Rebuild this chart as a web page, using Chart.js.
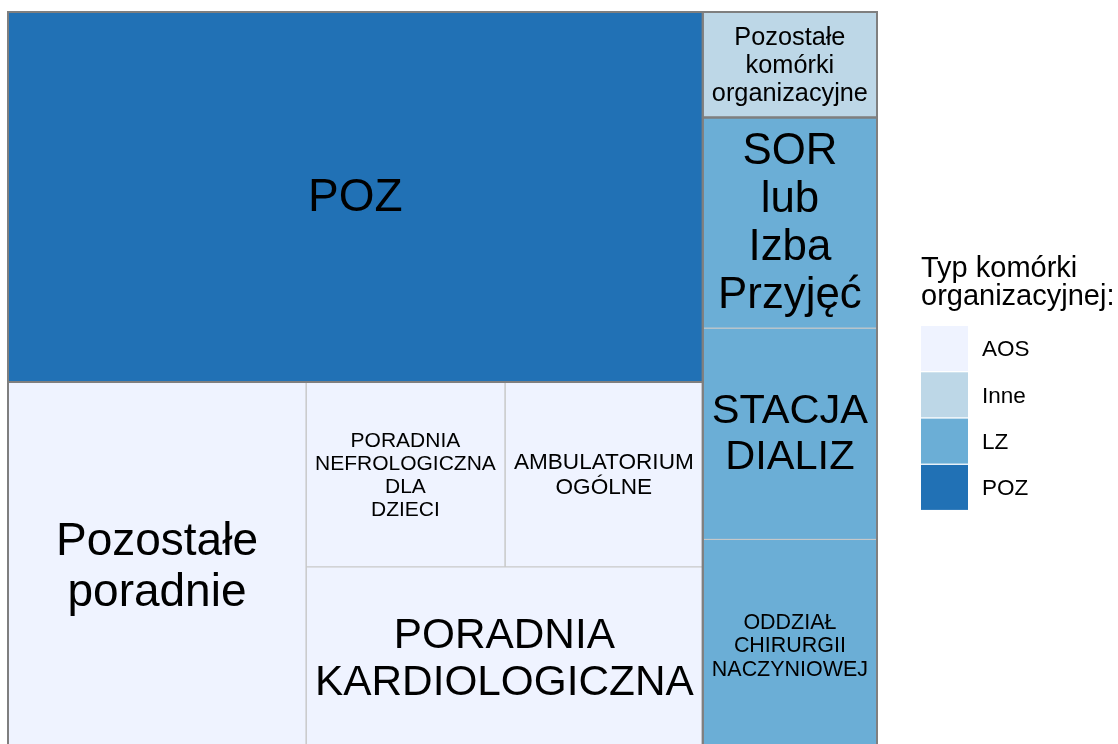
<!DOCTYPE html>
<html lang="pl">
<head>
<meta charset="utf-8">
<title>Typ komórki organizacyjnej</title>
<script src="https://cdn.jsdelivr.net/npm/chart.js@4.4.1/dist/chart.umd.min.js"></script>
<style>
  html, body { margin: 0; padding: 0; background: #fff; overflow: hidden; }
  #wrap { width: 1118px; height: 763px; }
</style>
</head>
<body>
<div id="wrap"><canvas id="treemap" width="1118" height="763"></canvas></div>
<script>
// treemap cells
const cellNames = ['POZ', 'Pozostałe poradnie', 'PORADNIA KARDIOLOGICZNA', 'PORADNIA NEFROLOGICZNA DLA DZIECI',
  'AMBULATORIUM OGÓLNE', 'Pozostałe komórki organizacyjne', 'SOR lub Izba Przyjęć', 'STACJA DIALIZ',
  'ODDZIAŁ CHIRURGII NACZYNIOWEJ'];
const cellGroups = ['POZ', 'AOS', 'AOS', 'AOS', 'AOS', 'Inne', 'LZ', 'LZ', 'LZ'];
const cellValues = [4004, 1712, 1137, 573, 570, 286, 572, 573, 574];

// legend
const groupNames = ['AOS', 'Inne', 'LZ', 'POZ'];
const groupColors = ['#eff3ff', '#bdd7e7', '#6baed6', '#2171b5'];
const legendTitle = ['Typ komórki', 'organizacyjnej:'];

const FONT = '"Liberation Sans", Arial, sans-serif';

// squarified layout in a unit square, columns start at the left (top to bottom),
// rows start at the bottom (left to right)
function worst(row, side) {
  const s = row.reduce((a, r) => a + r.area, 0);
  return Math.max(...row.map(r => Math.max(side * side * r.area / (s * s), (s * s) / (side * side * r.area))));
}

function squarify(items, rect) {
  const total = items.reduce((a, it) => a + it.value, 0);
  const list = items.slice().sort((a, b) => b.value - a.value)
    .map(it => Object.assign({}, it, { area: it.value / total * rect.w * rect.h }));
  const out = [];
  let r = Object.assign({}, rect);
  let i = 0;
  while (i < list.length) {
    const vertical = r.w >= r.h;
    const side = vertical ? r.h : r.w;
    const row = [list[i]];
    let j = i + 1;
    while (j < list.length && worst(row.concat(list[j]), side) <= worst(row, side)) {
      row.push(list[j]);
      j++;
    }
    const thick = row.reduce((a, c) => a + c.area, 0) / side;
    if (vertical) {
      let top = r.y + r.h;
      row.forEach(c => {
        const h = c.area / thick;
        out.push(Object.assign(c, { x0: r.x, x1: r.x + thick, y0: top - h, y1: top }));
        top -= h;
      });
      r = { x: r.x + thick, y: r.y, w: r.w - thick, h: r.h };
    } else {
      let left = r.x;
      row.forEach(c => {
        const w = c.area / thick;
        out.push(Object.assign(c, { x0: left, x1: left + w, y0: r.y, y1: r.y + thick }));
        left += w;
      });
      r = { x: r.x, y: r.y + thick, w: r.w, h: r.h - thick };
    }
    i = j;
  }
  return out;
}

const groupItems = groupNames.map(g => ({
  name: g,
  value: cellValues.reduce((a, v, i) => a + (cellGroups[i] === g ? v : 0), 0)
}));
const groupRects = squarify(groupItems, { x: 0, y: 0, w: 1, h: 1 });
const cells = [];
groupRects.forEach(g => {
  const members = cellNames.map((n, i) => ({ name: n, value: cellValues[i], group: cellGroups[i] }))
    .filter(c => c.group === g.name);
  squarify(members, { x: g.x0, y: g.y0, w: g.x1 - g.x0, h: g.y1 - g.y0 }).forEach(c => cells.push(c));
});

const box = r => [
  { x: r.x0, y: r.y0 }, { x: r.x1, y: r.y0 }, { x: r.x1, y: r.y1 }, { x: r.x0, y: r.y1 }, { x: r.x0, y: r.y0 }
];

const datasets = [];
cells.forEach(c => {
  datasets.push({
    label: c.name,
    data: box(c),
    backgroundColor: groupColors[groupNames.indexOf(c.group)],
    borderColor: '#c9c9c9',
    borderWidth: 1,
    fill: 'shape',
    order: 2
  });
});
groupRects.forEach(g => {
  datasets.push({
    label: g.name,
    data: box(g),
    borderColor: '#7f7f7f',
    borderWidth: 2,
    fill: false,
    order: 1
  });
});

const cellLabels = {
  id: 'cellLabels',
  afterDatasetsDraw(chart) {
    const { ctx, scales: { x, y } } = chart;
    ctx.save();
    ctx.fillStyle = '#000';
    ctx.textAlign = 'center';
    ctx.textBaseline = 'middle';
    cells.forEach(c => {
      const left = x.getPixelForValue(c.x0), right = x.getPixelForValue(c.x1);
      const top = y.getPixelForValue(c.y1), bottom = y.getPixelForValue(c.y0);
      const lines = c.name.split(' ');
      ctx.font = '100px ' + FONT;
      const widest = Math.max(...lines.map(l => ctx.measureText(l).width)) / 100;
      const size = Math.min(46, (right - left - 18) / widest, (bottom - top - 18) / (lines.length * 1.1));
      const lh = size * 1.1;
      ctx.font = size + 'px ' + FONT;
      const cx = (left + right) / 2, cy = (top + bottom) / 2 + 1;
      lines.forEach((l, i) => ctx.fillText(l, cx, cy + (i - (lines.length - 1) / 2) * lh));
    });
    ctx.restore();
  }
};

const sideLegend = {
  id: 'sideLegend',
  afterDraw(chart) {
    const { ctx, chartArea } = chart;
    const lx = chartArea.right + 44;
    const cy = (chartArea.top + chartArea.bottom) / 2;
    ctx.save();
    ctx.fillStyle = '#000';
    ctx.textAlign = 'left';
    ctx.textBaseline = 'alphabetic';
    ctx.font = '29px ' + FONT;
    legendTitle.forEach((t, i) => ctx.fillText(t, lx, cy - 105 + i * 28.5));
    ctx.font = '22.5px ' + FONT;
    ctx.textBaseline = 'middle';
    groupNames.forEach((g, i) => {
      const top = cy - 55.5 + i * 46.3;
      ctx.fillStyle = groupColors[i];
      ctx.fillRect(lx, top, 47, 45);
      ctx.fillStyle = '#000';
      ctx.fillText(g, lx + 61, top + 24);
    });
    ctx.restore();
  }
};

new Chart(document.getElementById('treemap'), {
  type: 'line',
  data: { datasets },
  options: {
    responsive: false,
    animation: false,
    events: [],
    elements: {
      point: { radius: 0 },
      line: { tension: 0, borderJoinStyle: 'miter' }
    },
    datasets: { line: { clip: false } },
    layout: { padding: { left: 8, top: 12, right: 241, bottom: 12 } },
    scales: {
      x: { type: 'linear', min: 0, max: 1, display: false },
      y: { type: 'linear', min: 0, max: 1, display: false }
    },
    plugins: {
      legend: { display: false },
      tooltip: { enabled: false }
    }
  },
  plugins: [cellLabels, sideLegend]
});
</script>
</body>
</html>
